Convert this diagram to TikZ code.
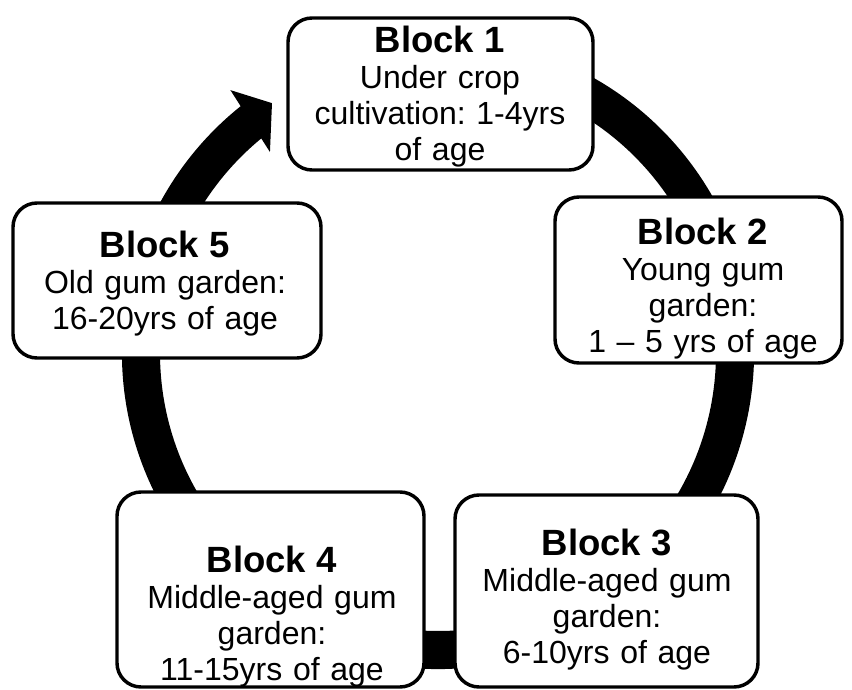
\documentclass[tikz,border=0pt]{standalone}
\usepackage{fontspec}
\setmainfont{Liberation Sans}
\usetikzlibrary{fit}
\frenchspacing
\begin{document}
\begin{tikzpicture}[x=0.75pt,y=0.75pt,
  blockbox/.style={draw=black, line width=2.6pt, rounded corners=18pt, fill=white, inner sep=0pt},
  blocktext/.style={anchor=base, align=center, inner sep=0pt, text width=240pt,
    font=\fontsize{24}{27}\selectfont\frenchspacing},
  ringfill/.style={fill=black}]
\useasboundingbox (0,0) rectangle (852,689);
% circular band behind the blocks
\fill[ringfill, shift={(438,336)}] (75:316) arc[start angle=75, end angle=-231.5, radius=316]
   -- (-231.5:278) arc[start angle=-231.5, end angle=75, radius=278] -- cycle;
% arrow head pointing to Block 1
\fill[ringfill, shift={(438,336)}] (128.3:335) -- (123.6:300) -- (129.9:262) -- cycle;
% blocks
\node[blockbox, fit={(288,671) (593,519)}] (b1) {};
\node[blockbox, fit={(555,492) (842,326)}] (b2) {};
\node[blockbox, fit={(455,194) (758,2)}] (b3) {};
\node[blockbox, fit={(117,197) (424,2)}] (b4) {};
\node[blockbox, fit={(13,486) (321,331)}] (b5) {};
% texts
\newcommand{\blocktitle}[1]{{\fontsize{27.4}{27}\selectfont\bfseries #1}}
\node[blocktext] (t1) at (440,636) {\blocktitle{Block 1}\\Under crop\\cultivation: 1-4yrs\\of age};
\node[blocktext] (t2) at (703,444) {\blocktitle{Block 2}\\Young gum\\garden:\\1 – 5 yrs of age};
\node[blocktext] (t3) at (607,134) {\blocktitle{Block 3}\\Middle-aged gum\\garden:\\6-10yrs of age};
\node[blocktext] (t4) at (272,117) {\blocktitle{Block 4}\\Middle-aged gum\\garden:\\11-15yrs of age};
\node[blocktext] (t5) at (165,431) {\blocktitle{Block 5}\\Old gum garden:\\16-20yrs of age};
\end{tikzpicture}
\end{document}
